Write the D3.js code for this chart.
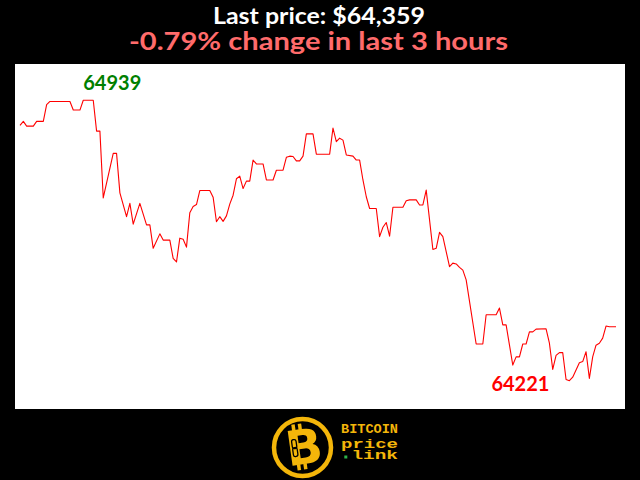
<!DOCTYPE html>
<html><head><meta charset="utf-8">
<script src="https://cdn.jsdelivr.net/npm/d3@7"></script>
<style>html,body{margin:0;padding:0;background:#000;overflow:hidden}</style>
</head><body>
<svg id="c" width="640" height="480"></svg>
<script>
// minute index (0..179 over the last 3 hours) at each turning point of the line
const minutes = [0,1,2,4,5,7,8,9,15,16,18,19,22,23,24,25,28,29,30,32,33,34,36,38,39,40,42,43,45,46,47,48,49,50,51,52,53,54,57,58,59,60,61,62,63,64,65,66,67,68,69,70,71,73,74,76,77,79,80,81,82,83,84,85,86,88,89,93,94,95,96,97,98,100,101,102,103,104,105,107,108,109,110,111,112,115,116,117,119,120,121,122,124,125,126,127,129,130,131,132,133,134,137,139,140,143,144,145,146,148,149,150,151,152,153,154,155,158,159,160,161,162,163,164,165,166,168,169,170,171,172,173,174,175,176,177,179];
const prices = [64875,64885,64873,64873,64885,64885,64928,64936,64936,64914,64914,64939,64939,64860,64860,64689,64803,64803,64702,64641,64675,64622,64675,64620,64620,64560,64597,64581,64581,64534,64525,64586,64583,64563,64651,64667,64672,64708,64708,64691,64628,64641,64629,64643,64673,64696,64738,64745,64713,64732,64732,64786,64776,64776,64735,64735,64760,64760,64793,64796,64795,64784,64784,64796,64853,64853,64801,64801,64868,64833,64842,64837,64799,64796,64786,64786,64735,64692,64662,64662,64590,64614,64626,64591,64665,64665,64682,64684,64684,64671,64671,64709,64557,64560,64601,64590,64513,64522,64520,64511,64504,64479,64315,64315,64390,64390,64407,64364,64364,64261,64282,64282,64315,64315,64346,64346,64353,64354,64317,64250,64286,64293,64293,64224,64221,64230,64267,64270,64295,64227,64282,64312,64317,64330,64361,64359,64359];
const titleLines = ["Last price: $64,359", "-0.79% change in last 3 hours"];
const logoLines = ["BITCOIN", "price", "link"];

const svg = d3.select("#c");
svg.append("rect").attr("width",640).attr("height",480).attr("fill","#000");

const tf = "Lato, 'Open Sans', sans-serif";
// titles
svg.append("text").attr("x",319).attr("y",24).attr("text-anchor","middle")
  .attr("font-family",tf).attr("font-weight","bold")
  .attr("font-size",23.5).attr("fill","#fff")
  .attr("textLength",212).attr("lengthAdjust","spacingAndGlyphs").text(titleLines[0]);
svg.append("text").attr("x",318.5).attr("y",49.5).attr("text-anchor","middle")
  .attr("font-family",tf).attr("font-weight","bold")
  .attr("font-size",24.5).attr("fill","#ff6b6b")
  .attr("textLength",379).attr("lengthAdjust","spacingAndGlyphs").text(titleLines[1]);

// panel
svg.append("rect").attr("x",15).attr("y",64).attr("width",610).attr("height",345).attr("fill","#fff");

const data = minutes.map((m,i)=>({m, p:prices[i]}));
const x = d3.scaleLinear().domain([0,179]).range([20,616]);
const y = d3.scaleLinear().domain([d3.min(prices), d3.max(prices)]).range([380.7,100.3]);

svg.append("path").datum(data)
  .attr("d", d3.line().x(d=>x(d.m)).y(d=>y(d.p)))
  .attr("fill","none").attr("stroke","#ff0000").attr("stroke-width",1.1)
  .attr("stroke-linejoin","round");

const maxD = data.reduce((a,b)=> b.p>a.p?b:a);
const minD = data.reduce((a,b)=> b.p<a.p?b:a);
svg.append("text").attr("x",x(maxD.m)).attr("y",y(maxD.p)-10)
  .attr("font-family",tf).attr("font-weight","bold")
  .attr("font-size",20).attr("fill","#008000").text(maxD.p);
svg.append("text").attr("x",x(minD.m)-20).attr("y",y(minD.p)+10).attr("text-anchor","end")
  .attr("font-family",tf).attr("font-weight","bold")
  .attr("font-size",20).attr("fill","#ff0000").text(minD.p);

// logo
const gold = "#f4b60a";
const lg = svg.append("g").attr("transform","translate(302.5,447.5)");
lg.append("circle").attr("r",28.5).attr("fill","#000").attr("stroke",gold).attr("stroke-width",4.5);
const bg = lg.append("g").attr("transform","rotate(-8)");
bg.append("text").attr("x",1.5).attr("y",16.5).attr("text-anchor","middle")
  .attr("font-family","'DejaVu Sans', sans-serif").attr("font-weight","bold")
  .attr("font-size",48).attr("fill",gold).text("B");
[-8,-1.5].forEach(dx=>{
  bg.append("rect").attr("x",dx).attr("y",-24).attr("width",3.5).attr("height",7).attr("fill",gold);
  bg.append("rect").attr("x",dx).attr("y",16).attr("width",3.5).attr("height",6).attr("fill",gold);
});
bg.append("rect").attr("x",-10).attr("y",-9).attr("width",4.5).attr("height",9).attr("rx",2)
  .attr("fill","none").attr("stroke","#000").attr("stroke-width",1.3);
bg.append("rect").attr("x",-10).attr("y",-1).attr("width",4.5).attr("height",9).attr("rx",2)
  .attr("fill","none").attr("stroke","#000").attr("stroke-width",1.3);

const lf = "'Courier New', 'Liberation Mono', monospace";
svg.append("text").attr("x",341).attr("y",433).attr("font-family",lf).attr("font-weight","bold")
  .attr("font-size",12.5).attr("fill",gold).attr("textLength",57).attr("lengthAdjust","spacingAndGlyphs").text(logoLines[0]);
svg.append("text").attr("x",341).attr("y",447.5).attr("font-family",lf).attr("font-weight","bold")
  .attr("font-size",13).attr("fill",gold).attr("textLength",57).attr("lengthAdjust","spacingAndGlyphs").text(logoLines[1]);
svg.append("rect").attr("x",344.3).attr("y",455.5).attr("width",3).attr("height",3).attr("fill","#2db34a");
svg.append("text").attr("x",351.5).attr("y",458.7).attr("font-family",lf).attr("font-weight","bold")
  .attr("font-size",12.5).attr("fill",gold).attr("textLength",46.5).attr("lengthAdjust","spacingAndGlyphs").text(logoLines[2]);
</script>
</body></html>
